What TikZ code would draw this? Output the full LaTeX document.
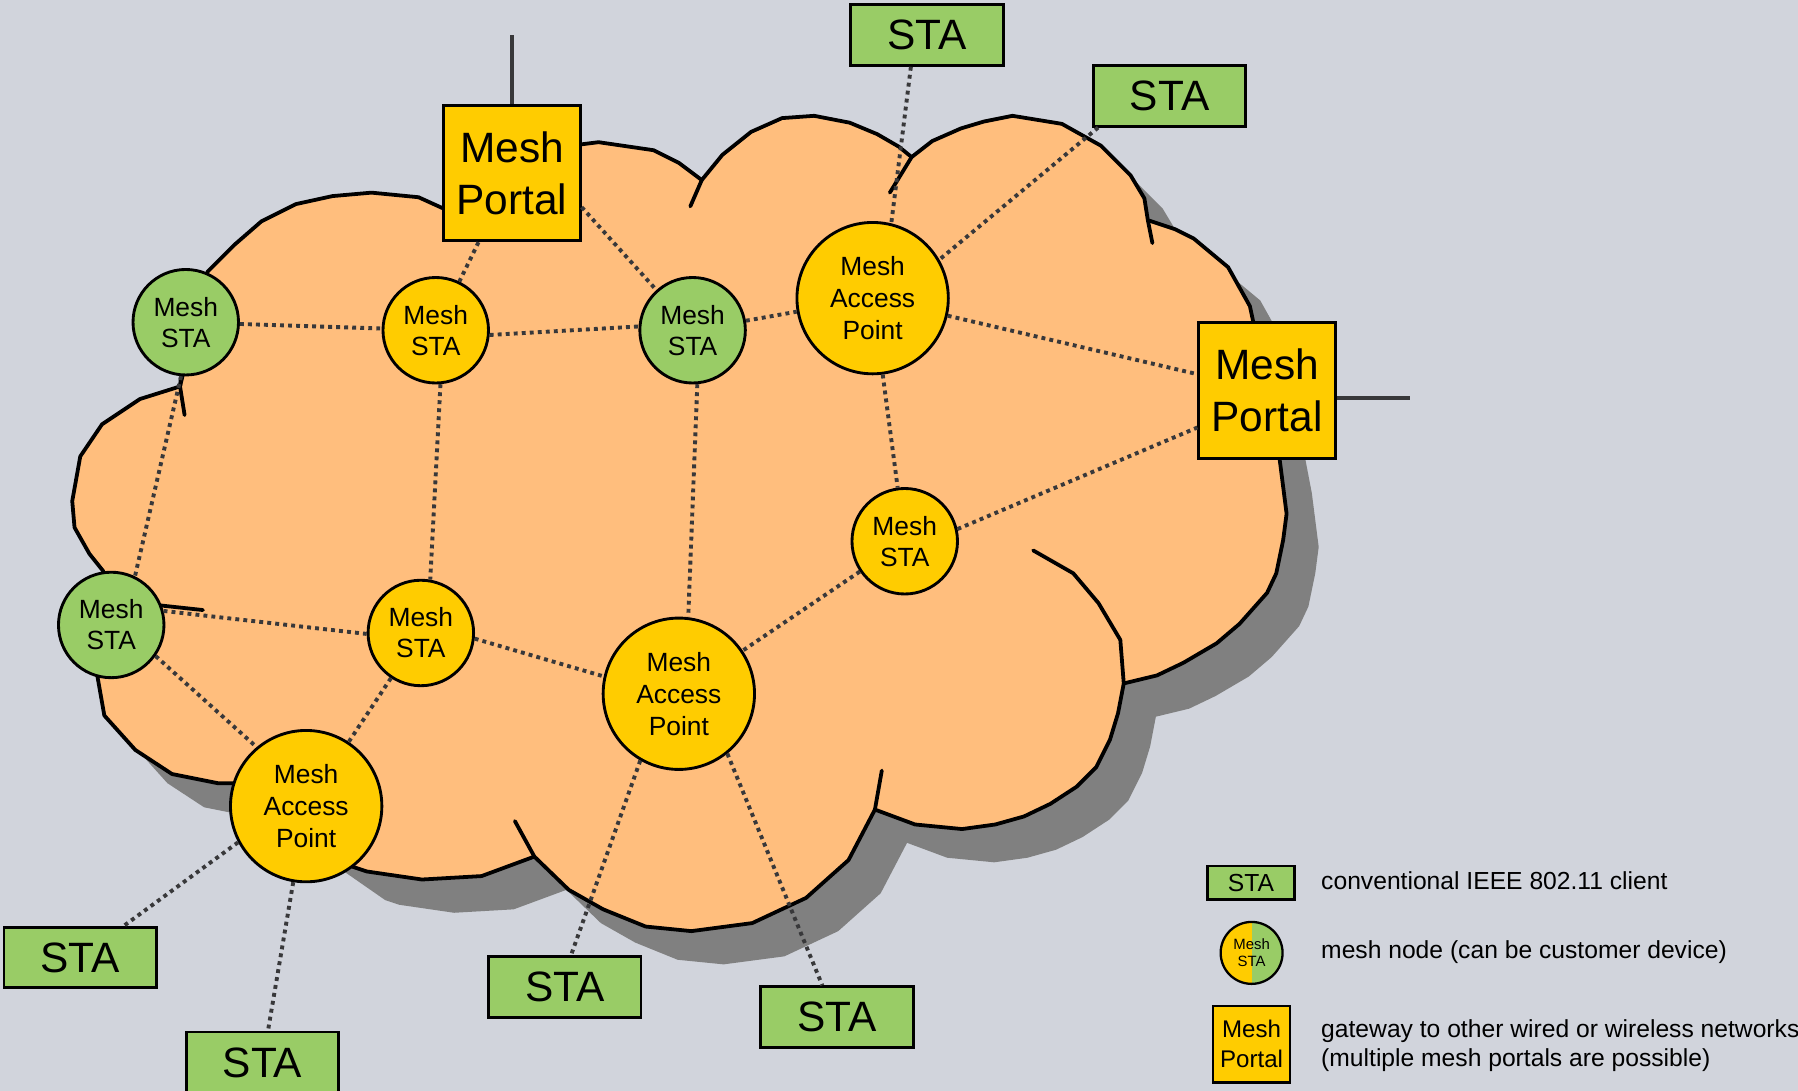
\documentclass[tikz,border=0pt]{standalone}
\usepackage{fontspec}
\setmainfont{Liberation Sans}
\definecolor{bgc}{RGB}{209,212,220}
\definecolor{cloudc}{RGB}{255,190,125}
\definecolor{meshyellow}{RGB}{255,204,0}
\definecolor{meshgreen}{RGB}{153,204,102}
\definecolor{shadowc}{RGB}{128,128,128}
\definecolor{connc}{RGB}{56,56,58}
\begin{document}
\begin{tikzpicture}[x=1pt,y=-1pt,
  cloudline/.style={line width=3.3pt, line join=round, line cap=round},
  meshnode/.style={circle, draw, line width=2.5pt, inner sep=0pt, align=center},
  ysta/.style={meshnode, fill=meshyellow, minimum size=92pt, font=\fontsize{23}{27}\selectfont},
  gsta/.style={meshnode, fill=meshgreen, minimum size=92pt, font=\fontsize{23}{27}\selectfont},
  meshap/.style={meshnode, fill=meshyellow, minimum size=132pt, font=\fontsize{23}{28}\selectfont},
  portal/.style={rectangle, draw, line width=2.5pt, fill=meshyellow, minimum width=119pt, minimum height=118pt, inner sep=0pt, align=center, font=\fontsize{37}{45}\selectfont},
  stabox/.style={rectangle, draw, line width=2.5pt, fill=meshgreen, minimum width=133pt, minimum height=53pt, inner sep=0pt, font=\fontsize{37}{44}\selectfont},
  conn/.style={draw=connc, line width=3.4pt, dash pattern=on 3.4pt off 3.6pt},
  antenna/.style={draw=connc, line width=3.3pt},
  legtext/.style={font=\fontsize{21.5}{25}\selectfont, inner sep=0pt, align=left}
]
\useasboundingbox (0,0) rectangle (1568,951);
\fill[bgc] (0,0) rectangle (1568,951);

\def\cloudpath{(181,237) -- (205,213) -- (228,193) -- (258,178) -- (290,171) -- (324,168) -- (365,172) -- (387,182)
 -- (506,126) -- (522,124) -- (570,131) -- (592,142) -- (612,157)
 -- (630,135) -- (655,115) -- (682,103) -- (710,101) -- (741,107) -- (765,117) -- (784,128) -- (795,137)
 -- (813,123) -- (838,112) -- (858,106) -- (883,101) -- (926,108) -- (960,127) -- (986,153) -- (998,173) -- (1001,192)
 -- (1025,200) -- (1041,208) -- (1071,233) -- (1090,267) -- (1093,281)
 -- (1116,401) -- (1122,448) -- (1119,471) -- (1113,500) -- (1105,517) -- (1081,544) -- (1061,561) -- (1032,578) -- (1009,589) -- (980,596)
 -- (975,622) -- (968,645) -- (956,669) -- (939,686) -- (916,701) -- (893,712) -- (868,719) -- (839,723) -- (798,719) -- (763,706)
 -- (740,750) -- (703,783) -- (656,805) -- (603,812) -- (563,808) -- (526,793) -- (496,776) -- (466,747)
 -- (420,764) -- (368,767) -- (320,760) -- (308,756)
 -- (203,683) -- (190,683) -- (150,675) -- (118,654) -- (91,624) -- (85,590)
 -- (90,498) -- (78,483) -- (65,460) -- (63,437) -- (70,398) -- (89,370) -- (122,348) -- (157,337) -- cycle}

% shadow and cloud
\fill[shadowc, shift={(28,29)}] \cloudpath;
\filldraw[fill=cloudc, cloudline] \cloudpath;

% inner arcs of the cloud
\draw[cloudline] (612,157) -- (602,180);
\draw[cloudline] (795,137) -- (776,168);
\draw[cloudline] (1001,192) -- (1005,212);
\draw[cloudline] (980,596) -- (977,558) -- (958,526) -- (936,500) -- (901,480);
\draw[cloudline] (763,706) -- (769,672);
\draw[cloudline] (466,747) -- (449,716);
\draw[cloudline] (140,528) -- (177,532);
\draw[cloudline] (158,327) -- (157,337) -- (161,362);

% nodes
\node[portal] (pt) at (446.5,151) {Mesh\\Portal};
\node[portal] (pr) at (1105,340.5) {Mesh\\Portal};
\node[gsta] (s1) at (162,281) {Mesh\\STA};
\node[ysta] (s2) at (380,288) {Mesh\\STA};
\node[gsta] (s3) at (604,288) {Mesh\\STA};
\node[meshap] (ap1) at (761,260) {Mesh\\Access\\Point};
\node[ysta] (s4) at (789,472) {Mesh\\STA};
\node[gsta] (s5) at (97,545) {Mesh\\STA};
\node[ysta] (s6) at (367,552) {Mesh\\STA};
\node[meshap] (ap2) at (592,605) {Mesh\\Access\\Point};
\node[meshap] (ap3) at (267,703) {Mesh\\Access\\Point};
\node[stabox] (t1) at (808.5,30.5) {STA};
\node[stabox] (t2) at (1020,83.5) {STA};
\node[stabox] (bl1) at (70,835) {STA};
\node[stabox] (bl2) at (229,926.5) {STA};
\node[stabox] (bm) at (492.5,861) {STA};
\node[stabox] (br) at (730,887) {STA};

% antennas
\coordinate (ant1) at (446.5,30.5);
\coordinate (ant2) at (1230,347);
\draw[antenna] (pt.north) -- (ant1);
\draw[antenna] (pr.east |- ant2) -- (ant2);

% connectors
\draw[conn] (s1) -- (s2);
\draw[conn] (s2.-5) -- (s3.176);
\draw[conn] (s3) -- (ap1);
\draw[conn] (pt) -- (s2);
\draw[conn] (pt.-26) -- (s3.132);
\draw[conn] (t1.-117) -- (ap1.76);
\draw[conn] (t2.204) -- (ap1.30);
\draw[conn] (ap1) -- (pr);
\draw[conn] (ap1) -- (s4);
\draw[conn] (s4.13) -- (pr.208);
\draw[conn] (s4) -- (ap2);
\draw[conn] (s3.-85) -- (ap2.83);
\draw[conn] (s2.-85) -- (s6.80);
\draw[conn] (s1.-95) -- (s5.64);
\draw[conn] (s5.15) -- (s6.181);
\draw[conn] (s6.-6) -- (ap2.167);
\draw[conn] (s5.-35) -- (ap3.130);
\draw[conn] (s6) -- (ap3);
\draw[conn] (ap3.208) -- (bl1.36);
\draw[conn] (ap3) -- (bl2);
\draw[conn] (ap2.240) -- (bm.79);
\draw[conn] (ap2.-51) -- (br.115);

% legend
\node[rectangle, draw, line width=2pt, fill=meshgreen, minimum width=76pt, minimum height=29pt, inner sep=0pt, font=\fontsize{21.5}{25}\selectfont] (lsta) at (1091,770) {STA};
\node[circle, draw, line width=2pt, minimum size=54pt, inner sep=0pt, align=center, font=\fontsize{13}{15}\selectfont,
  path picture={\fill[meshyellow] (path picture bounding box.south west) rectangle (path picture bounding box.north);
                \fill[meshgreen] (path picture bounding box.south) rectangle (path picture bounding box.north east);}] (lnode) at (1091.5,831) {Mesh\\STA};
\node[rectangle, draw, line width=2pt, fill=meshyellow, minimum width=67pt, minimum height=67pt, inner sep=0pt, align=center, font=\fontsize{21}{26}\selectfont] (lportal) at (1091.5,910.5) {Mesh\\Portal};
\node[legtext, anchor=base west] (ltext1) at (1152,776) {conventional IEEE 802.11 client};
\node[legtext, anchor=base west] (ltext2) at (1152,836) {mesh node (can be customer device)};
\node[legtext, anchor=west] (ltext3) at (1152,912) {gateway to other wired or wireless networks\\(multiple mesh portals are possible)};
\end{tikzpicture}
\end{document}
